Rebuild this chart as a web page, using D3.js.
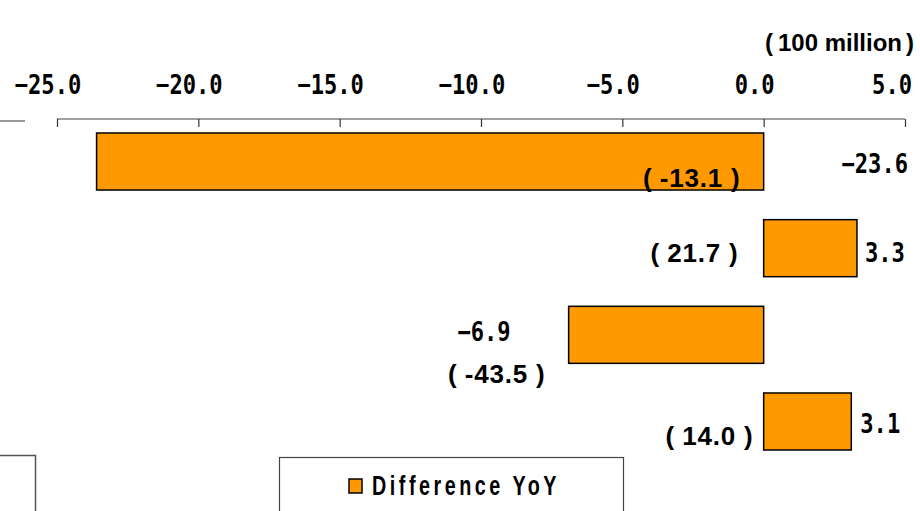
<!DOCTYPE html>
<html>
<head>
<meta charset="utf-8">
<script src="https://cdn.jsdelivr.net/npm/d3@7"></script>
<style>
  body { margin: 0; background: #fff; }
  svg { display: block; }
</style>
</head>
<body>
<div id="chart"></div>
<script>
// data
var categories = ['A', 'B', 'C', 'D'];
var diffValues = [-23.6, 3.3, -6.9, 3.1];
var pctValues = ['-13.1', '21.7', '-43.5', '14.0'];
var tickValues = [-25, -20, -15, -10, -5, 0, 5];
var unitLabel = '100 million';
var legendLabel = 'Difference YoY';

var svgWidth = 920, svgHeight = 511;
var barColor = '#FF9900';
var latinFont = "'Liberation Sans', Arial, sans-serif";
var monoFont = "'DejaVu Sans Mono', monospace";

var svg = d3.select('#chart').append('svg')
    .attr('width', svgWidth)
    .attr('height', svgHeight);

// scales
var xscale = d3.scaleLinear()
    .domain([-25, 5])
    .range([57, 905]);

var yscale = d3.scaleBand()
    .domain(categories)
    .range([118, 465])
    .paddingInner(0.342)
    .paddingOuter(0.173);

// axis line + ticks on top
var axisY = 119;
var axis = d3.axisBottom(xscale)
    .tickValues(tickValues)
    .tickSize(8)
    .tickFormat('');

var axisG = svg.append('g')
    .attr('transform', `translate(0, ${axisY})`)
    .call(axis);
axisG.select('.domain').attr('stroke', '#808080').attr('stroke-width', 1.5)
    .attr('d', `M${xscale(-25)},0H${xscale(5)}`);
axisG.selectAll('.tick line').attr('stroke', '#333').attr('stroke-width', 1.2);

// tick labels (mono, narrowed; excel pads a trailing space)
var fmt = d3.format('.1f');
var charW = 13.3;
svg.selectAll('.ticklabel')
    .data(tickValues)
    .enter()
    .append('text')
    .attr('class', 'ticklabel')
    .attr('x', d => Math.min(xscale(d) - 9, 912 - fmt(d).length * charW / 2))
    .attr('y', 94)
    .attr('text-anchor', 'middle')
    .attr('font-family', monoFont)
    .attr('font-weight', 'bold')
    .attr('font-size', 27)
    .attr('textLength', d => fmt(d).length * charW)
    .attr('lengthAdjust', 'spacingAndGlyphs')
    .text(d => fmt(d));

// unit label
svg.append('text')
    .attr('x', 914)
    .attr('y', 51)
    .attr('text-anchor', 'end')
    .attr('font-family', latinFont)
    .attr('font-weight', 'bold')
    .attr('font-size', 24)
    .text('(')
  .append('tspan')
    .attr('dx', 5)
    .text(unitLabel)
  .append('tspan')
    .attr('dx', 4)
    .text(')');

// stray lines from neighbouring panel
svg.append('line')
    .attr('x1', 0).attr('x2', 25).attr('y1', 121).attr('y2', 121)
    .attr('stroke', '#555').attr('stroke-width', 1.2);
svg.append('path')
    .attr('d', 'M0,455.5H35.5V511')
    .attr('fill', 'none').attr('stroke', '#555').attr('stroke-width', 1.5);

// bars
svg.selectAll('.bar')
    .data(diffValues)
    .enter()
    .append('rect')
    .attr('class', 'bar')
    .attr('x', d => xscale(Math.min(0, d)))
    .attr('y', (d, i) => yscale(categories[i]))
    .attr('width', d => Math.abs(xscale(d) - xscale(0)))
    .attr('height', yscale.bandwidth())
    .attr('fill', barColor)
    .attr('stroke', '#000')
    .attr('stroke-width', 1.5);

// value labels - placed like the original (hand moved)
var valueLayout = [
    { x: 908, dy: 0.70, anchor: 'end' },
    { x: null, off: 8, dy: 0.74, anchor: 'start' },
    { x: null, off: -58, dy: 0.60, anchor: 'end' },
    { x: null, off: 9, dy: 0.70, anchor: 'start' }
];
var bw = yscale.bandwidth();

svg.selectAll('.vlabel')
    .data(diffValues)
    .enter()
    .append('text')
    .attr('class', 'vlabel')
    .attr('x', (d, i) => valueLayout[i].x != null ? valueLayout[i].x : xscale(d) + valueLayout[i].off)
    .attr('y', (d, i) => yscale(categories[i]) + bw * valueLayout[i].dy)
    .attr('text-anchor', (d, i) => valueLayout[i].anchor)
    .attr('font-family', monoFont)
    .attr('font-weight', 'bold')
    .attr('font-size', 26)
    .attr('textLength', d => fmt(d).length * charW)
    .attr('lengthAdjust', 'spacingAndGlyphs')
    .text(d => fmt(d));

// YoY % labels in parentheses (wide, japanese style brackets)
var pctLayout = [
    { off: -24, dy: 0.95 },
    { off: -26, dy: 0.74 },
    { off: -219, dy: 1.35 },
    { off: -11, dy: 0.91 }
];
var plabels = svg.selectAll('.plabel')
    .data(pctValues)
    .enter()
    .append('text')
    .attr('class', 'plabel')
    .attr('x', (d, i) => xscale(0) + pctLayout[i].off)
    .attr('y', (d, i) => yscale(categories[i]) + bw * pctLayout[i].dy)
    .attr('text-anchor', 'end')
    .attr('font-family', latinFont)
    .attr('font-weight', 'bold')
    .attr('font-size', 26);
plabels.append('tspan').text('(');
plabels.append('tspan').attr('dx', 8).attr('letter-spacing', 0.8).text(d => d);
plabels.append('tspan').attr('dx', 8).text(')');

// legend
var legend = svg.append('g');
legend.append('rect')
    .attr('x', 279.5).attr('y', 457.5)
    .attr('width', 344).attr('height', 70)
    .attr('fill', '#fff').attr('stroke', '#444').attr('stroke-width', 1.2);
legend.append('rect')
    .attr('x', 349).attr('y', 479)
    .attr('width', 13).attr('height', 14)
    .attr('fill', barColor).attr('stroke', '#000').attr('stroke-width', 1.5);
legend.append('text')
    .attr('x', 372).attr('y', 495)
    .attr('font-family', latinFont)
    .attr('font-weight', 'bold')
    .attr('font-size', 28)
    .attr('textLength', 188)
    .attr('lengthAdjust', 'spacingAndGlyphs')
    .attr('letter-spacing', 5)
    .text(legendLabel);
</script>
</body>
</html>
